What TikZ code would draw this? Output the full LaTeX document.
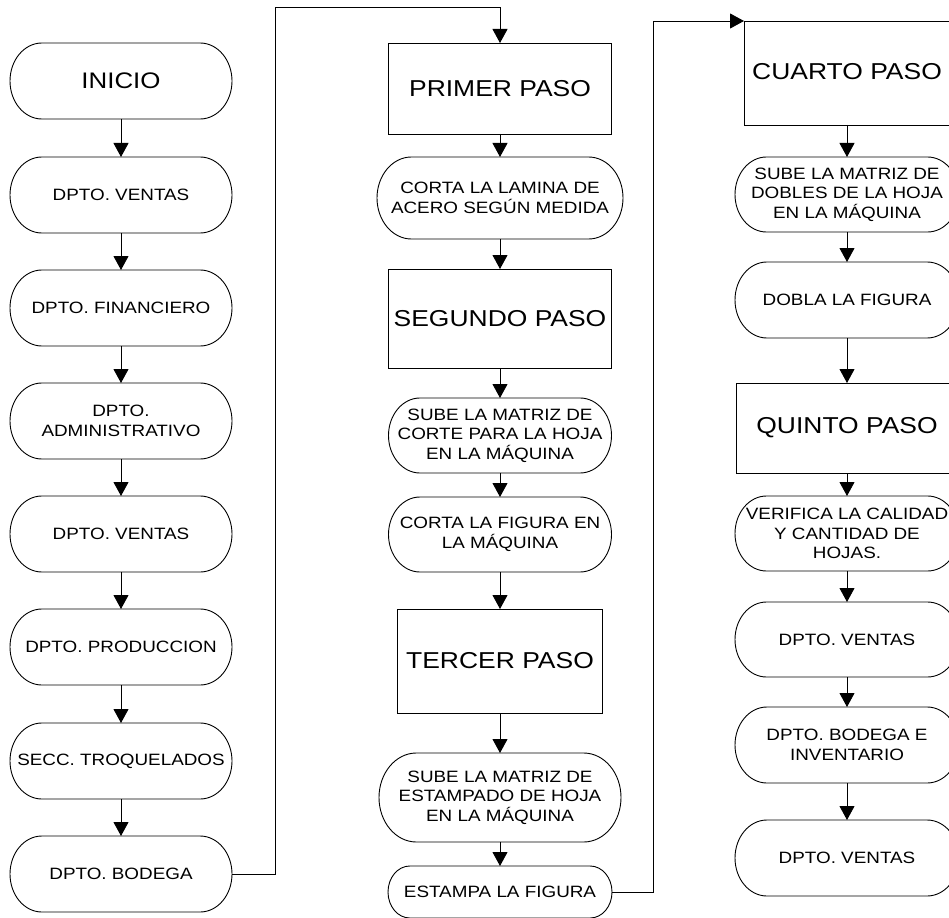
\documentclass[tikz,border=0pt]{standalone}
\usepackage{fontspec}
\setmainfont{Liberation Sans}[FakeStretch=1.15]
\usetikzlibrary{arrows.meta}

\tikzset{
  link/.style={line width=0.9pt, black},
  flow/.style={link, -{Triangle[length=14pt,width=15pt]}},
  boxtext/.style={inner sep=0pt, outer sep=0pt, align=center,
    font=\fontsize{16.4}{19.5}\selectfont},
  stepbox/.style={draw, link, inner sep=0pt, outer sep=0pt, align=center,
    font=\fontsize{23}{26}\selectfont},
}

% terminal: name, centre x, centre y (downwards), width, height, text
\newcommand\termbox[6]{%
  \node[boxtext, minimum width=#4pt, minimum height=#5pt] (#1) at (#2,-#3) {#6};
  \pgfmathsetmacro\termrx{0.42*#5}%
  \pgfmathsetmacro\termry{#5/2}%
  \draw[link] ([xshift=\termrx pt]#1.north west) -- ([xshift=-\termrx pt]#1.north east)
    arc[start angle=90, end angle=-90, x radius=\termrx pt, y radius=\termry pt]
    -- ([xshift=\termrx pt]#1.south west)
    arc[start angle=270, end angle=90, x radius=\termrx pt, y radius=\termry pt]
    -- cycle;}

\begin{document}
\begin{tikzpicture}[x=1pt, y=1pt]
\useasboundingbox (0,0) rectangle (949,-917);
\clip (0,0) rectangle (949,-917);

% first column: departments
\termbox{inicio}{121}{81}{222}{76}{\fontsize{22.5}{26}\selectfont INICIO}
\termbox{ventasA}{121}{195}{222}{76}{DPTO. VENTAS}
\termbox{finan}{121}{308}{222}{76}{DPTO. FINANCIERO}
\termbox{admin}{121}{421}{222}{76}{DPTO.\\ADMINISTRATIVO}
\termbox{ventasB}{121}{534}{222}{76}{DPTO. VENTAS}
\termbox{prod}{121}{647}{222}{76}{DPTO. PRODUCCION}
\termbox{troq}{121}{761}{222}{76}{SECC. TROQUELADOS}
\termbox{bodega}{121}{874}{222}{76}{DPTO. BODEGA}

% second column: steps one to three
\node[stepbox, minimum width=223pt, minimum height=91pt] (paso1) at (500,-88.5) {PRIMER PASO};
\termbox{lamina}{500}{198}{246}{82}{CORTA LA LAMINA DE\\ACERO SEGÚN MEDIDA}
\node[stepbox, minimum width=223pt, minimum height=99pt] (paso2) at (500,-318.5) {SEGUNDO PASO};
\termbox{matcorte}{500}{435.5}{223}{75}{SUBE LA MATRIZ DE\\CORTE PARA LA HOJA\\EN LA MÁQUINA}
\termbox{cortafig}{500}{534.5}{223}{75}{CORTA LA FIGURA EN\\LA MÁQUINA}
\node[stepbox, minimum width=205pt, minimum height=104pt] (paso3) at (500,-661) {TERCER PASO};
\termbox{matestamp}{500}{797.5}{242}{89}{SUBE LA MATRIZ DE\\ESTAMPADO DE HOJA\\EN LA MÁQUINA}
\termbox{estampa}{500}{892}{224}{52}{ESTAMPA LA FIGURA}

% third column: steps four and five
\node[stepbox, minimum width=206pt, minimum height=104pt] (paso4) at (847,-73) {\raisebox{3pt}{CUARTO PASO}};
\termbox{matdobles}{847}{194.5}{224}{75}{SUBE LA MATRIZ DE\\DOBLES DE LA HOJA\\EN LA MÁQUINA}
\termbox{dobla}{847}{300}{224}{76}{DOBLA LA FIGURA}
\node[stepbox, minimum width=222pt, minimum height=90pt] (paso5) at (847,-428) {QUINTO PASO};
\termbox{verifica}{847}{533.5}{224}{75}{VERIFICA LA CALIDAD\\Y CANTIDAD DE\\HOJAS.}
\termbox{ventasC}{847}{639.5}{224}{75}{DPTO. VENTAS}
\termbox{inventario}{847}{745}{224}{76}{DPTO. BODEGA E\\INVENTARIO}
\termbox{ventasD}{847}{858}{224}{76}{DPTO. VENTAS}

% column links
\coordinate (jumpA) at (275,-7);
\coordinate (jumpB) at (653,-21);

% flow in the first column
\draw[flow] (inicio.south) -- (ventasA.north);
\draw[flow] (ventasA.south) -- (finan.north);
\draw[flow] (finan.south) -- (admin.north);
\draw[flow] (admin.south) -- (ventasB.north);
\draw[flow] (ventasB.south) -- (prod.north);
\draw[flow] (prod.south) -- (troq.north);
\draw[flow] (troq.south) -- (bodega.north);
\draw[flow] (bodega.east) -| (jumpA) -| (paso1.north);

% flow in the second column
\draw[flow] (paso1.south) -- (lamina.north);
\draw[flow] (lamina.south) -- (paso2.north);
\draw[flow] (paso2.south) -- (matcorte.north);
\draw[flow] (matcorte.south) -- (cortafig.north);
\draw[flow] (cortafig.south) -- (paso3.north);
\draw[flow] (paso3.south) -- (matestamp.north);
\draw[flow] (matestamp.south) -- (estampa.north);
\draw[flow] (estampa.east) -| (jumpB) -- (paso4.north west);

% flow in the third column
\draw[flow] (paso4.south) -- (matdobles.north);
\draw[flow] (matdobles.south) -- (dobla.north);
\draw[flow] (dobla.south) -- (paso5.north);
\draw[flow] (paso5.south) -- (verifica.north);
\draw[flow] (verifica.south) -- (ventasC.north);
\draw[flow] (ventasC.south) -- (inventario.north);
\draw[flow] (inventario.south) -- (ventasD.north);
\end{tikzpicture}
\end{document}
